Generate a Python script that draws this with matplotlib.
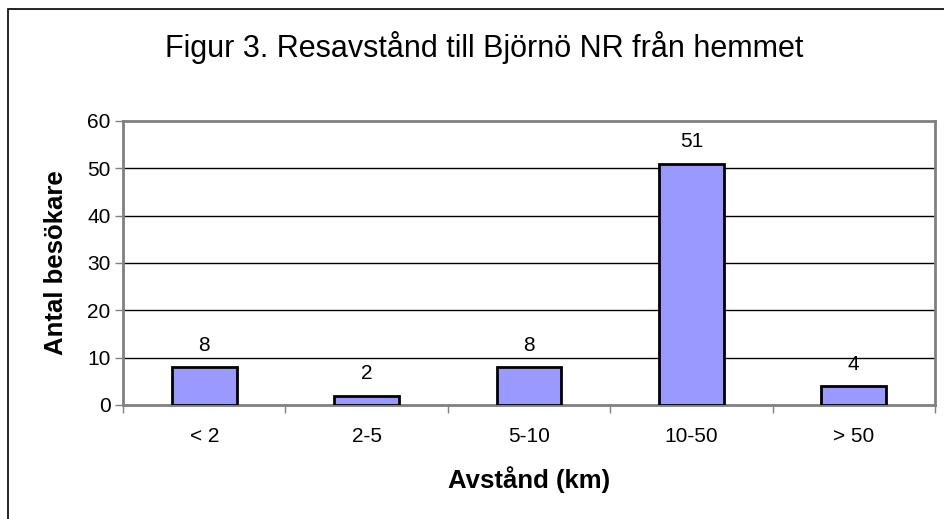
import matplotlib
matplotlib.use("Agg")
import matplotlib.pyplot as plt
from matplotlib.patches import Rectangle

categories = ["< 2", "2-5", "5-10", "10-50", "> 50"]
values = [8, 2, 8, 51, 4]
yticks = [0, 10, 20, 30, 40, 50, 60]

plt.rcParams['font.family'] = ['Liberation Sans', 'DejaVu Sans']

fig = plt.figure(figsize=(9.44, 5.19), dpi=100)
# figure border (left and top visible)
fig.add_artist(Rectangle((8/944, -0.1), 1.2, 1 - 9/519 + 0.1, transform=fig.transFigure,
                         fill=False, edgecolor='black', linewidth=1.2))

ax = fig.add_axes([123/944, 1 - 405/519, (935 - 123)/944, (405 - 121)/519])
x = list(range(len(categories)))
ax.bar(x, values, width=0.4, color='#9999FF', edgecolor='black', linewidth=2, zorder=3)
for xi, v in zip(x, values):
    ax.annotate(str(v), (xi, v), xytext=(0, 9), textcoords='offset points',
                ha='center', va='bottom', fontsize=15)

ax.set_xlim(-0.5, len(categories) - 0.5)
ax.set_ylim(0, 60)
ax.set_yticks(yticks)
ax.set_yticklabels([str(t) for t in yticks], fontsize=15)
ax.set_xticks(x)
ax.set_xticklabels(categories, fontsize=15)
ax.tick_params(axis='x', length=0, pad=16)
ax.set_xticks([i + 0.5 for i in range(-1, len(categories))], minor=True)
ax.tick_params(axis='x', which='minor', length=6, width=1, color='#808080', direction='out')
ax.tick_params(axis='y', length=6, width=1, color='#808080', direction='out', pad=3)

for t in yticks[1:-1]:
    ax.axhline(t, color='black', linewidth=1, zorder=1)

for side in ['top', 'right', 'left', 'bottom']:
    ax.spines[side].set_color('#808080')
    ax.spines[side].set_linewidth(2)

ax.set_ylabel("Antal besökare", fontsize=18.5, fontweight='bold', labelpad=14)
ax.set_xlabel("Avstånd (km)", fontsize=18.5, fontweight='bold', labelpad=14)

fig.text(484/944, 1 - 48/519, "Figur 3. Resavstånd till Björnö NR från hemmet",
         ha='center', va='center', fontsize=22)

fig.savefig("out.png", dpi=100)
